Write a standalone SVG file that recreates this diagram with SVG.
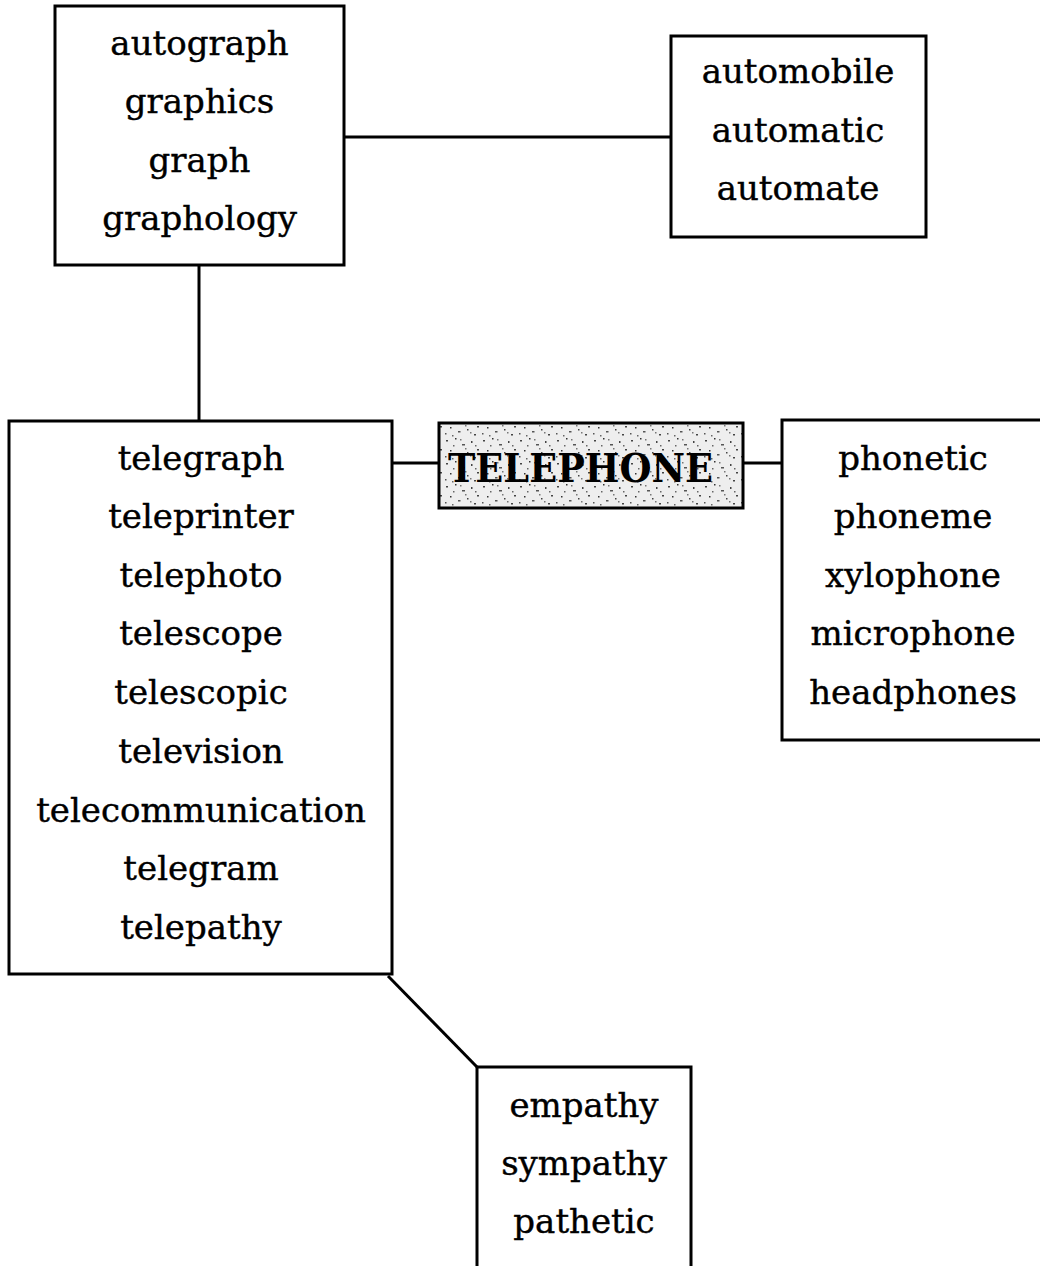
<svg xmlns="http://www.w3.org/2000/svg" width="1040" height="1266" viewBox="0 0 1040 1266">
<style>
.box{fill:#fff;stroke:#000;stroke-width:3}
.ln{fill:none;stroke:#000;stroke-width:3}
.t{font-family:"DejaVu Serif","Liberation Serif",serif;font-size:34px;fill:#000;stroke:#000;stroke-width:0.4;text-anchor:middle}
.big{font-family:"DejaVu Serif","Liberation Serif",serif;font-size:40px;font-weight:bold;fill:#000;text-anchor:middle}
</style>
<defs>
<pattern id="stip" width="37" height="23" patternUnits="userSpaceOnUse">
<rect width="37" height="23" fill="#eeeeee"/>
<rect x="2" y="3" width="2" height="1.5" fill="#444"/>
<rect x="11" y="1" width="1.5" height="1.5" fill="#333"/>
<rect x="18" y="7" width="3" height="1.5" fill="#555"/>
<rect x="27" y="4" width="1.5" height="2" fill="#444"/>
<rect x="33" y="12" width="2" height="1.5" fill="#444"/>
<rect x="6" y="13" width="1.5" height="1.5" fill="#333"/>
<rect x="14" y="17" width="2.5" height="1.5" fill="#555"/>
<rect x="23" y="15" width="1.5" height="1.5" fill="#444"/>
<rect x="30" y="20" width="2" height="1.5" fill="#444"/>
<rect x="9" y="8" width="1.5" height="1.5" fill="#666"/>
<rect x="1" y="19" width="1.5" height="1.5" fill="#555"/>
<rect x="21" y="11" width="1.5" height="1.5" fill="#777"/>
<rect x="31" y="8" width="1.5" height="1.5" fill="#666"/>
<rect x="16" y="2" width="1.5" height="1.5" fill="#777"/>
<rect x="8" y="21" width="1.5" height="1.5" fill="#666"/>
<rect x="26" y="18" width="1.5" height="1.5" fill="#777"/>
</pattern>
</defs>
<rect width="1040" height="1266" fill="#fff"/>
<g id="connectors">
<line class="ln" x1="344" y1="137" x2="671" y2="137"/>
<line class="ln" x1="199" y1="265" x2="199" y2="421"/>
<line class="ln" x1="392" y1="463" x2="439" y2="463"/>
<line class="ln" x1="743" y1="463" x2="782" y2="463"/>
<line class="ln" x1="388" y1="976" x2="477" y2="1067"/>
</g>
<g id="graph">
<rect class="box" x="55" y="6" width="289" height="259"/>
<text class="t" x="199.5" y="55">autograph</text>
<text class="t" x="199.5" y="113">graphics</text>
<text class="t" x="199.5" y="172">graph</text>
<text class="t" x="199.5" y="230">graphology</text>
</g>
<g id="auto">
<rect class="box" x="671" y="36" width="255" height="201"/>
<text class="t" x="798" y="83">automobile</text>
<text class="t" x="798" y="142">automatic</text>
<text class="t" x="798" y="200">automate</text>
</g>
<g id="tele">
<rect class="box" x="9" y="421" width="383" height="553"/>
<text class="t" x="201" y="470">telegraph</text>
<text class="t" x="201" y="528">teleprinter</text>
<text class="t" x="201" y="587">telephoto</text>
<text class="t" x="201" y="645">telescope</text>
<text class="t" x="201" y="704">telescopic</text>
<text class="t" x="201" y="763">television</text>
<text class="t" x="201" y="822">telecommunication</text>
<text class="t" x="201" y="880">telegram</text>
<text class="t" x="201" y="939">telepathy</text>
</g>
<g id="telephone">
<rect x="439" y="423" width="304" height="85" fill="url(#stip)" stroke="#000" stroke-width="3"/>
<text class="big" x="580.5" y="482" textLength="265" lengthAdjust="spacingAndGlyphs">TELEPHONE</text>
</g>
<g id="phone">
<rect class="box" x="782" y="420" width="262" height="320"/>
<text class="t" x="913" y="470">phonetic</text>
<text class="t" x="913" y="528">phoneme</text>
<text class="t" x="913" y="587">xylophone</text>
<text class="t" x="913" y="645">microphone</text>
<text class="t" x="913" y="704">headphones</text>
</g>
<g id="path">
<rect class="box" x="477" y="1067" width="214" height="210"/>
<text class="t" x="584" y="1117">empathy</text>
<text class="t" x="584" y="1175">sympathy</text>
<text class="t" x="584" y="1233">pathetic</text>
</g>
</svg>
